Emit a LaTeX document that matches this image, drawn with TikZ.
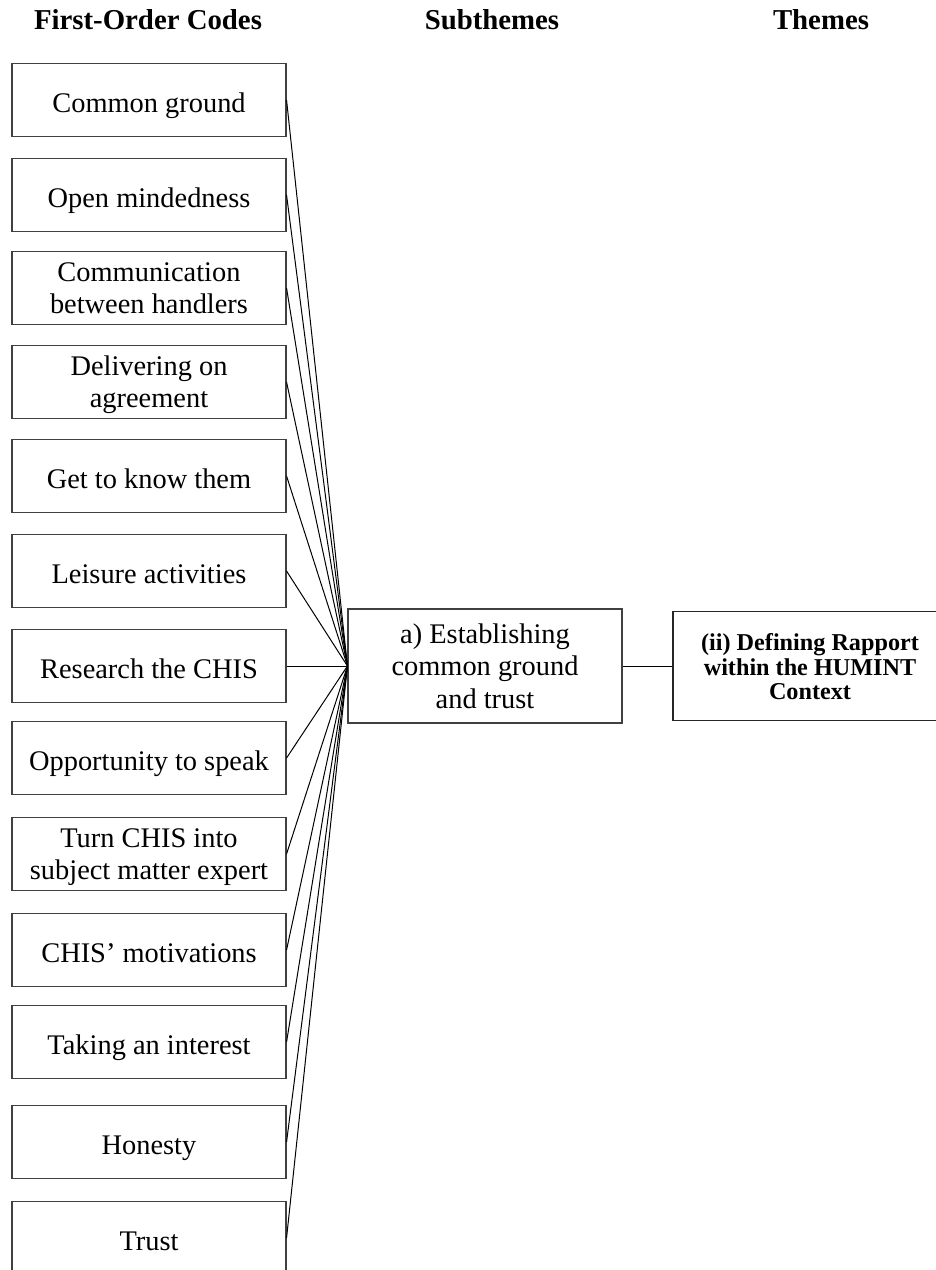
\documentclass[tikz,border=0pt]{standalone}
\usepackage{fontspec}
\setmainfont{Liberation Serif}
% lower the printed text inside a box without changing the box's centring
\newcommand{\boxtext}[2][5.5pt]{\raisebox{-#1}[\height][\depth]{\begin{tabular}{@{}c@{}}#2\end{tabular}}}
\begin{document}
\begin{tikzpicture}[x=1pt,y=-1pt,
  codebox/.style={draw=black!75, line width=1.1pt, minimum width=274pt, minimum height=73pt,
    inner sep=0pt, font=\fontsize{28.4}{32.5}\selectfont},
  subbox/.style={codebox, minimum height=114pt},
  themebox/.style={draw=black!85, line width=1.1pt, minimum width=274pt, minimum height=109pt,
    inner sep=0pt, font=\bfseries\fontsize{24.2}{24.5}\selectfont},
  header/.style={anchor=base, font=\bfseries\fontsize{28.8}{33}\selectfont},
  link/.style={draw=black, line width=1pt}
]
\useasboundingbox (0,0) rectangle (936,1270);

\node[header] (h1) at (148,29) {First-Order Codes};
\node[header] (h2) at (492,29) {Subthemes};
\node[header] (h3) at (821,29) {Themes};

\node[codebox] (c1)  at (149,100)  {\boxtext{Common ground}};
\node[codebox] (c2)  at (149,195)  {\boxtext{Open mindedness}};
\node[codebox] (c3)  at (149,288)  {\boxtext[3pt]{Communication\\between handlers}};
\node[codebox] (c4)  at (149,382)  {\boxtext[3pt]{Delivering on\\agreement}};
\node[codebox] (c5)  at (149,476)  {\boxtext{Get to know them}};
\node[codebox] (c6)  at (149,571)  {\boxtext{Leisure activities}};
\node[codebox] (c7)  at (149,666)  {\boxtext{Research the CHIS}};
\node[codebox] (c8)  at (149,758)  {\boxtext{Opportunity to speak}};
\node[codebox] (c9)  at (149,854)  {\boxtext[3pt]{Turn CHIS into\\subject matter expert}};
\node[codebox] (c10) at (149,950)  {\boxtext{CHIS’ motivations}};
\node[codebox] (c11) at (149,1042) {\boxtext{Taking an interest}};
\node[codebox] (c12) at (149,1142) {\boxtext{Honesty}};
\node[codebox] (c13) at (149,1238) {\boxtext{Trust}};

\node[subbox] (s1) at (485,666) {\boxtext[3pt]{a) Establishing\\common ground\\and trust}};
\node[themebox] (t1) at (810,666) {\boxtext[4.5pt]{(ii) Defining Rapport\\within the HUMINT\\Context}};

\foreach \i in {1,...,13} {
  \draw[link] (c\i.east) -- (s1.west);
}
\draw[link] (s1.east) -- (t1.west);
\end{tikzpicture}
\end{document}
